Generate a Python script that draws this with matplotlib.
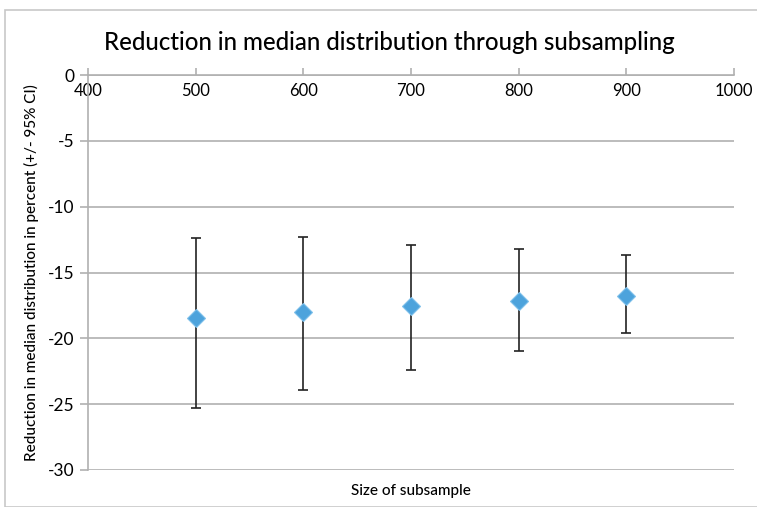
import matplotlib.pyplot as plt
from matplotlib.patches import Rectangle

# subsample size vs reduction in median (percent) with 95% CI bounds
sizes = [500, 600, 700, 800, 900]
median_red = [-18.45, -17.97, -17.57, -17.19, -16.76]
ci_upper = [-12.35, -12.3, -12.9, -13.24, -13.67]
ci_lower = [-25.26, -23.9, -22.37, -20.98, -19.57]

x_ticks = [400, 500, 600, 700, 800, 900, 1000]
y_ticks = [0, -5, -10, -15, -20, -25, -30]

plt.rcParams['font.family'] = ['Lato', 'DejaVu Sans']
plt.rcParams['axes.unicode_minus'] = False

fig = plt.figure(figsize=(7.57, 5.07), dpi=100)
ax = fig.add_axes([88/757, 1 - 470/507, (734 - 88)/757, (470 - 75)/507])

# chart border like the spreadsheet frame
fig.patches.append(Rectangle((5/757, 0), 1, 1 - 10/507, transform=fig.transFigure,
                             fill=False, edgecolor='#c8c8c8', linewidth=1.2))

err_lo = [m - lo for m, lo in zip(median_red, ci_lower)]
err_hi = [hi - m for m, hi in zip(median_red, ci_upper)]
ax.errorbar(sizes, median_red, yerr=[err_lo, err_hi], fmt='none',
            ecolor='#222222', elinewidth=1.2, capsize=3.6, capthick=1.2, zorder=3)
ax.plot(sizes, median_red, linestyle='none', marker='D', markersize=9,
        markerfacecolor='#4da3dc', markeredgecolor='#7ec0ea', markeredgewidth=0.8, zorder=4)

ax.set_xlim(400, 1000)
ax.set_ylim(-30, 0)
ax.set_xticks(x_ticks)
ax.set_yticks(y_ticks)
ax.yaxis.grid(True, color='#b0b0b0', linewidth=1.2)
ax.set_axisbelow(True)

for s in ['top', 'right']:
    ax.spines[s].set_visible(False)
ax.spines['left'].set_color('#b0b0b0')
ax.spines['left'].set_linewidth(1.2)
ax.spines['bottom'].set_position(('data', 0))
ax.spines['bottom'].set_color('#b0b0b0')
ax.spines['bottom'].set_linewidth(1.2)

ax.tick_params(axis='x', direction='in', length=5, color='#b0b0b0', width=1.2,
               labelsize=12, pad=6)
ax.tick_params(axis='y', direction='out', length=6, color='#b0b0b0', width=1.2,
               labelsize=12.5, pad=4)

fig.text(389/757, 1 - 42/507, 'Reduction in median distribution through subsampling',
         fontsize=17.3, fontweight='medium', ha='center', va='center')
ax.set_xlabel('Size of subsample', fontsize=11, fontweight='medium')
ax.xaxis.set_label_coords(0.5, -0.035)
ax.set_ylabel('Reduction in median distribution in percent (+/- 95% CI)', fontsize=11,
              fontweight='medium', labelpad=6)

fig.savefig('out.png', dpi=100)
